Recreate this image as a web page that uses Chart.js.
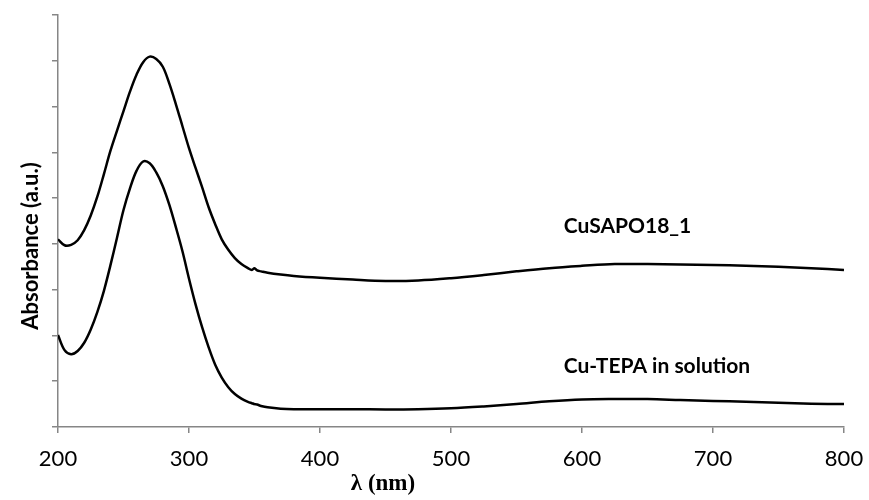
<!DOCTYPE html>
<html>
<head>
<meta charset="utf-8">
<script src="https://cdn.jsdelivr.net/npm/chart.js@4/dist/chart.umd.min.js"></script>
<style>
  html, body { margin: 0; padding: 0; background: #fff; }
  #wrap { width: 869px; height: 500px; }
</style>
</head>
<body>
<div id="wrap"><canvas id="uvChart" width="869" height="500"></canvas></div>
<script>
  // wavelength grid (nm)
  const wavelength = [200,205,210,215,220,225,230,235,240,245,250,255,260,265,270,275,280,285,290,295,
                      300,305,310,315,320,325,330,335,340,345,348,350,352,355,360,370,380,400,425,450,
                      475,500,525,550,575,600,625,650,675,700,725,750,775,800];

  // CuSAPO18_1 absorbance (offset, a.u.)
  const cuSapo = [4.10,3.97,3.98,4.08,4.30,4.62,5.03,5.52,6.03,6.47,6.90,7.33,7.70,7.97,8.09,8.04,7.87,7.50,7.05,6.57,
                  6.09,5.66,5.24,4.80,4.43,4.10,3.87,3.69,3.56,3.47,3.43,3.47,3.42,3.40,3.37,3.33,3.30,3.26,3.22,3.19,
                  3.20,3.25,3.32,3.40,3.47,3.52,3.56,3.56,3.55,3.54,3.52,3.50,3.47,3.43];

  // Cu-TEPA in solution absorbance (a.u.)
  const cuTepa = [2.01,1.68,1.59,1.66,1.84,2.13,2.51,2.97,3.53,4.13,4.74,5.22,5.60,5.80,5.76,5.56,5.26,4.85,4.36,3.84,
                  3.24,2.68,2.18,1.74,1.36,1.08,0.87,0.72,0.62,0.55,0.52,0.50,0.49,0.46,0.43,0.40,0.39,0.39,0.39,0.385,
                  0.39,0.41,0.45,0.50,0.56,0.60,0.61,0.61,0.59,0.57,0.55,0.53,0.51,0.50];

  const xTicks = [200,300,400,500,600,700,800];

  const axisGrey = '#868686';

  // curve labels and axis titles
  const textPlugin = {
    id: 'texts',
    afterDraw(chart) {
      const c = chart.ctx;
      const xs = chart.scales.x, ys = chart.scales.y;
      c.save();
      c.fillStyle = '#000';
      c.textBaseline = 'middle';
      c.textAlign = 'left';
      c.font = 'bold 21px Lato';
      c.fillText('CuSAPO18_1', xs.getPixelForValue(586), ys.getPixelForValue(4.39));
      c.fillText('Cu-TEPA in solution', xs.getPixelForValue(586), ys.getPixelForValue(1.33));

      c.textAlign = 'center';
      c.font = 'bold 23px "Liberation Serif"';
      c.fillText('λ (nm)', 383, 484);

      c.translate(31, 246);
      c.rotate(-Math.PI / 2);
      c.font = 'bold 22px Lato';
      c.fillText('Absorbance (a.u.)', 0, 0);
      c.restore();
    }
  };

  new Chart(document.getElementById('uvChart'), {
    type: 'line',
    data: {
      labels: wavelength,
      datasets: [
        { label: 'CuSAPO18_1', data: wavelength.map((w, i) => ({ x: w, y: cuSapo[i] })) },
        { label: 'Cu-TEPA in solution', data: wavelength.map((w, i) => ({ x: w, y: cuTepa[i] })) }
      ]
    },
    options: {
      responsive: false,
      animation: false,
      layout: { padding: { top: 15, right: 25, left: 0, bottom: 0 } },
      elements: {
        point: { radius: 0 },
        line: { borderColor: '#000', borderWidth: 2.5, tension: 0.35, fill: false }
      },
      plugins: { legend: { display: false }, tooltip: { enabled: false } },
      scales: {
        x: {
          type: 'linear',
          min: 200, max: 800,
          afterBuildTicks: s => { s.ticks = xTicks.map(v => ({ value: v })); },
          afterFit: s => { s.height = 73; s.paddingLeft = 0; s.paddingRight = 0; },
          border: { color: axisGrey, width: 1.5 },
          grid: { drawOnChartArea: false, drawTicks: true, tickLength: 6, color: axisGrey, lineWidth: 1.5 },
          ticks: { color: '#000', font: { family: 'Lato', size: 22 }, padding: 13, maxRotation: 0 }
        },
        y: {
          min: 0, max: 9,
          afterFit: s => { s.width = 58; s.paddingTop = 0; s.paddingBottom = 0; },
          border: { color: axisGrey, width: 1.5 },
          grid: { drawOnChartArea: false, drawTicks: true, tickLength: 6, color: axisGrey, lineWidth: 1.5 },
          ticks: { display: false, stepSize: 1 }
        }
      }
    },
    plugins: [textPlugin]
  });
</script>
</body>
</html>
